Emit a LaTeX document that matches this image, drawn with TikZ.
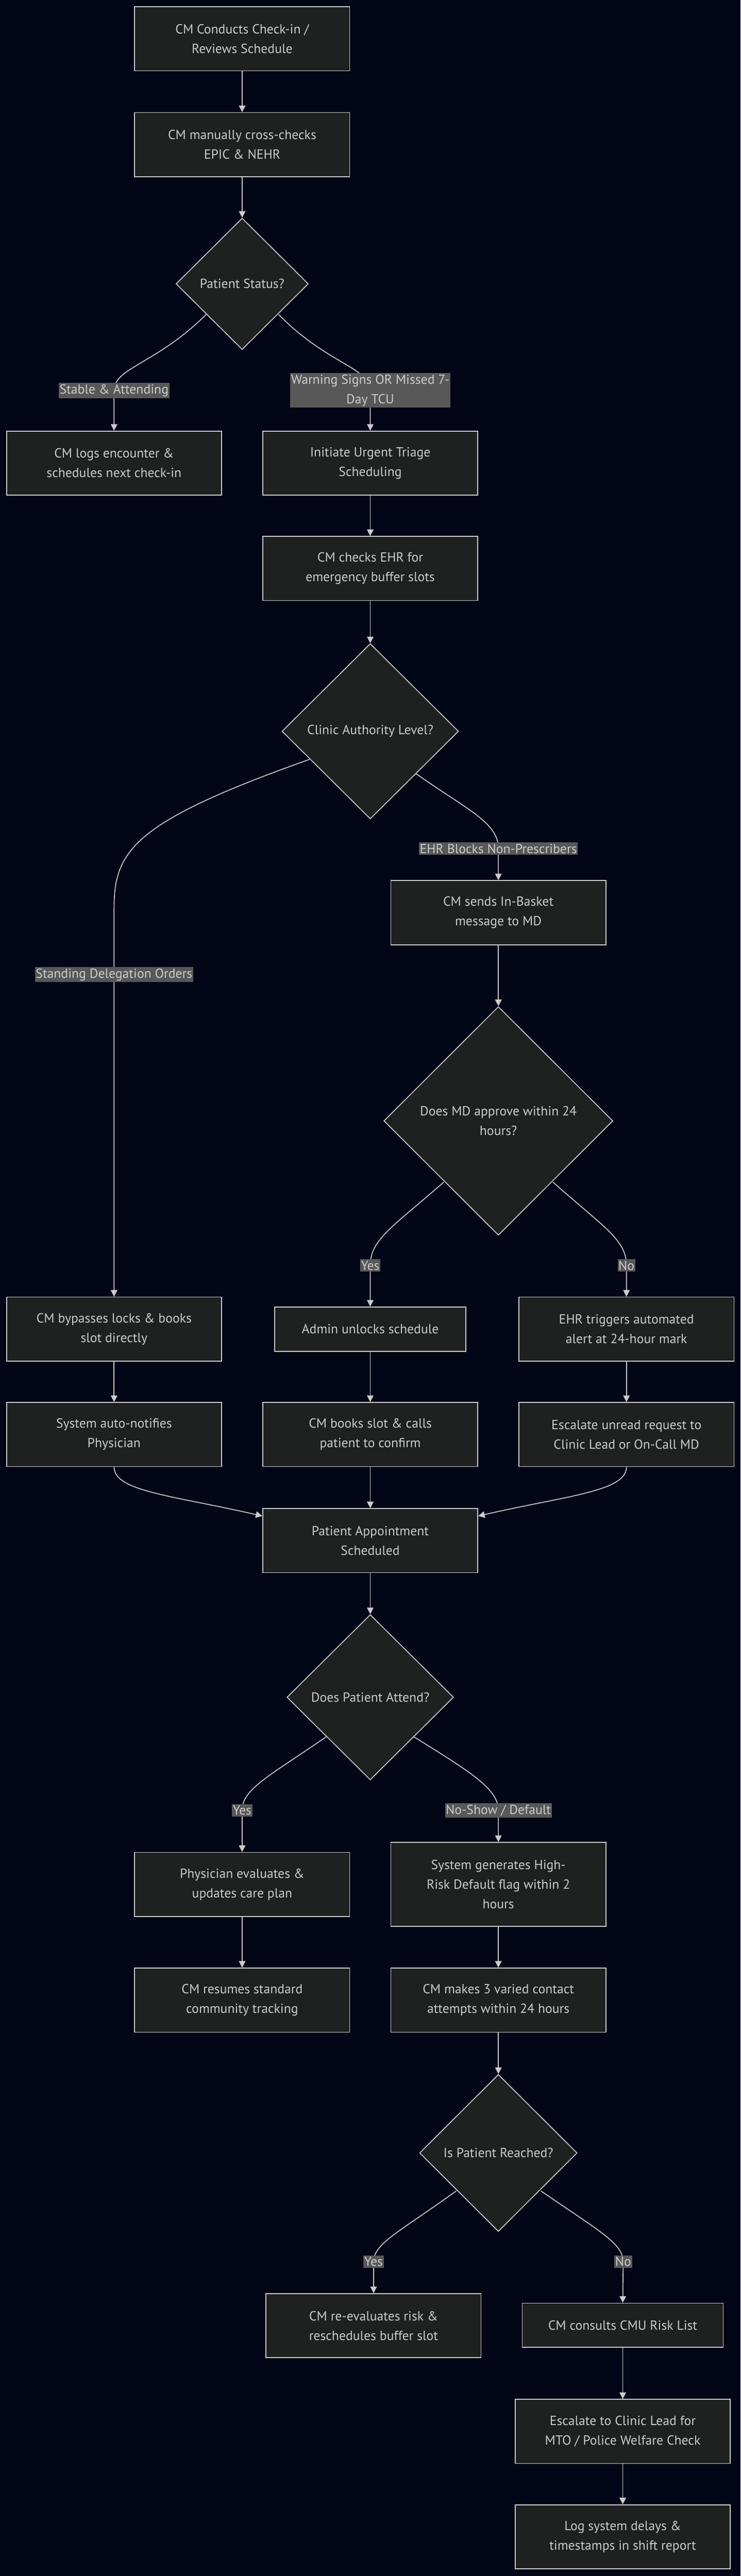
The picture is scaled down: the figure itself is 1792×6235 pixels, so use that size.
\documentclass[tikz,border=0pt]{standalone}
\usepackage{fontspec}
\setmainfont{PT Sans}
\usetikzlibrary{arrows.meta, positioning, shapes.geometric, calc}
\definecolor{bgnavy}{HTML}{020617}
\definecolor{boxfill}{HTML}{1F2020}
\definecolor{linegray}{HTML}{CCCCCC}
\definecolor{labelgray}{HTML}{585858}

\begin{document}
\begin{tikzpicture}[x=0.01cm, y=-0.01cm, >={Triangle[length=4.5pt, width=4.5pt]},
    every node/.style={font=\fontsize{9.1}{13.5}\selectfont, text=linegray},
    proc/.style={draw=linegray, line width=0.6pt, fill=boxfill, align=center,
        minimum width=5.2cm, minimum height=1.55cm, inner sep=0pt},
    decide/.style={diamond, draw=linegray, line width=0.6pt, fill=boxfill, align=center, inner sep=0pt},
    tag/.style={fill=labelgray, align=center, inner xsep=0.6pt, inner ysep=1pt},
    flow/.style={->, draw=linegray, line width=0.6pt}]

    % background and page size:
    \fill[bgnavy] (0,0) rectangle (1792,6235);
    \useasboundingbox (0,0) rectangle (1792,6235);

    % first steps and status check:
    \node[proc] (checkin) at (586,94) {CM Conducts Check-in /\\Reviews Schedule};
    \node[proc] (crosscheck) at (586,350) {CM manually cross-checks\\EPIC \& NEHR};
    \node[decide, minimum width=3.2cm, minimum height=3.18cm] (status) at (586,687) {Patient Status?};
    \node[proc] (logs) at (276,1121) {CM logs encounter \&\\schedules next check-in};
    \node[proc] (triage) at (896,1121) {Initiate Urgent Triage\\Scheduling};
    \node[proc] (buffer) at (896,1376) {CM checks EHR for\\emergency buffer slots};
    \node[decide, minimum width=4.27cm, minimum height=4.24cm] (authority) at (896,1770) {Clinic Authority Level?};

    % in-basket branch:
    \node[proc] (inbasket) at (1206,2209) {CM sends In-Basket\\message to MD};
    \node[decide, minimum width=5.54cm, minimum height=5.53cm] (approve) at (1206,2713) {Does MD approve within 24\\hours?};

    % three columns down to the appointment:
    \node[proc] (bypass) at (276,3217) {CM bypasses locks \& books\\slot directly};
    \node[proc, minimum width=4.62cm, minimum height=1.07cm] (unlock) at (896,3217) {Admin unlocks schedule};
    \node[proc] (alert) at (1516,3217) {EHR triggers automated\\alert at 24-hour mark};
    \node[proc] (notify) at (276,3472) {System auto-notifies\\Physician};
    \node[proc] (books) at (896,3472) {CM books slot \& calls\\patient to confirm};
    \node[proc] (unread) at (1516,3472) {Escalate unread request to\\Clinic Lead or On-Call MD};
    \node[proc] (appt) at (896,3729) {Patient Appointment\\Scheduled};

    % attendance check:
    \node[decide, minimum width=4.03cm, minimum height=4.0cm] (attend) at (896,4108) {Does Patient Attend?};
    \node[proc] (evaluate) at (586,4561) {Physician evaluates \&\\updates care plan};
    \node[proc, minimum height=2.03cm] (flag) at (1206,4561) {System generates High-\\Risk Default flag within 2\\hours};
    \node[proc] (resume) at (586,4841) {CM resumes standard\\community tracking};
    \node[proc] (contact) at (1206,4841) {CM makes 3 varied contact\\attempts within 24 hours};
    \node[decide, minimum width=3.81cm, minimum height=3.8cm] (reached) at (1206,5211) {Is Patient Reached?};
    \node[proc] (reeval) at (904,5629) {CM re-evaluates risk \&\\reschedules buffer slot};
    \node[proc, minimum width=4.86cm, minimum height=1.07cm] (cmu) at (1507,5628) {CM consults CMU Risk List};
    \node[proc] (welfare) at (1507,5885) {Escalate to Clinic Lead for\\MTO / Police Welfare Check};
    \node[proc] (logdelay) at (1507,6140) {Log system delays \&\\timestamps in shift report};

    % label spots on the edges:
    \coordinate (tStable) at (276,945);
    \coordinate (tWarn) at (896,945);
    \coordinate (tStanding) at (276,2359);
    \coordinate (tBlocks) at (1206,2054);
    \coordinate (tYesA) at (896,3063);
    \coordinate (tNoA) at (1516,3063);
    \coordinate (tYesB) at (586,4382);
    \coordinate (tNoShow) at (1206,4382);
    \coordinate (tYesC) at (904,5474);
    \coordinate (tNoC) at (1508,5474);

    % straight connectors:
    \draw[flow] (checkin) -- (crosscheck);
    \draw[flow] (crosscheck) -- (status);
    \draw[flow] (triage) -- (buffer);
    \draw[flow] (buffer) -- (authority);
    \draw[flow] (inbasket) -- (approve);
    \draw[flow] (bypass) -- (notify);
    \draw[flow] (unlock) -- (books);
    \draw[flow] (alert) -- (unread);
    \draw[flow] (books) -- (appt);
    \draw[flow] (appt) -- (attend);
    \draw[flow] (evaluate) -- (resume);
    \draw[flow] (flag) -- (contact);
    \draw[flow] (contact) -- (reached);
    \draw[flow] (cmu) -- (welfare);
    \draw[flow] (welfare) -- (logdelay);

    % curved branches out of the decisions:
    \draw[flow] (499,761) .. controls (380,880) and (276,890) .. (tStable) -- (logs.north);
    \draw[flow] (674,761) .. controls (790,880) and (896,890) .. (tWarn) -- (triage.north);
    \draw[flow] (749,1838) .. controls (320,1990) and (276,2060) .. (276,2200) -- (tStanding) -- (bypass.north);
    \draw[flow] (1006,1872) .. controls (1130,1960) and (1206,1990) .. (tBlocks) -- (inbasket.north);
    \draw[flow] (1074,2861) .. controls (950,2970) and (896,3000) .. (tYesA) -- (unlock.north);
    \draw[flow] (1338,2861) .. controls (1460,2970) and (1516,3000) .. (tNoA) -- (alert.north);
    \draw[flow] (789,4204) .. controls (650,4300) and (586,4330) .. (tYesB) -- (evaluate.north);
    \draw[flow] (1002,4204) .. controls (1140,4290) and (1206,4330) .. (tNoShow) -- (flag.north);
    \draw[flow] (1104,5303) .. controls (970,5400) and (904,5430) .. (tYesC) -- (reeval.north);
    \draw[flow] (1309,5303) .. controls (1450,5400) and (1508,5430) .. (tNoC) -- (cmu.north);

    % merging into the appointment:
    \draw[flow] (notify.south) .. controls (276,3610) and (420,3620) .. ($(appt.north west)+(0,19)$);
    \draw[flow] (unread.south) .. controls (1516,3610) and (1372,3620) .. ($(appt.north east)+(0,19)$);

    % edge labels:
    \node[tag] (lStable) at (tStable) {Stable \& Attending};
    \node[tag] (lWarn) at (tWarn) {Warning Signs OR Missed 7-\\Day TCU};
    \node[tag] (lStanding) at (tStanding) {Standing Delegation Orders};
    \node[tag] (lBlocks) at (tBlocks) {EHR Blocks Non-Prescribers};
    \node[tag] (lYesA) at (tYesA) {Yes};
    \node[tag] (lNoA) at (tNoA) {No};
    \node[tag] (lYesB) at (tYesB) {Yes};
    \node[tag] (lNoShow) at (tNoShow) {No-Show / Default};
    \node[tag] (lYesC) at (tYesC) {Yes};
    \node[tag] (lNoC) at (tNoC) {No};

\end{tikzpicture}
\end{document}
